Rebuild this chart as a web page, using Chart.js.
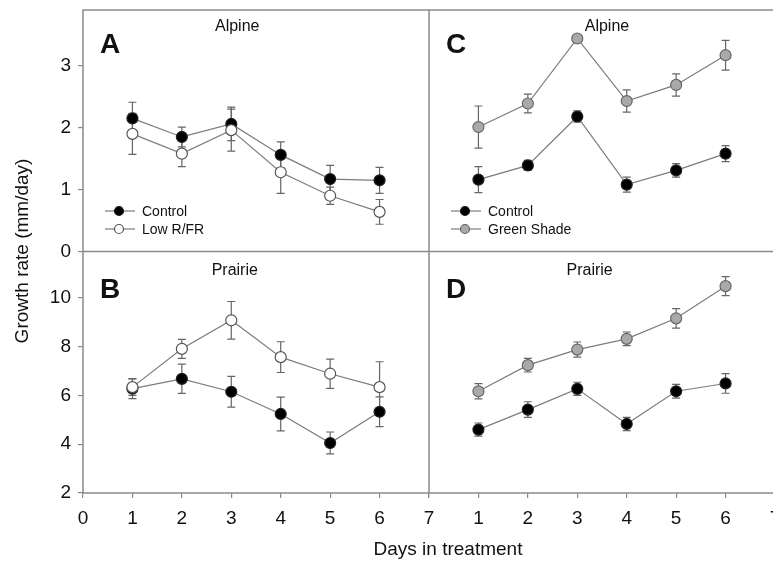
<!DOCTYPE html>
<html>
<head>
<meta charset="utf-8">
<script src="https://cdn.jsdelivr.net/npm/chart.js@4.4.0/dist/chart.umd.min.js"></script>
<style>
  html, body { margin: 0; padding: 0; background: #fff; overflow: hidden; }
  #wrap { position: relative; width: 773px; height: 563px; overflow: hidden; }
  #fig { position: absolute; left: 0; top: 0; }
</style>
</head>
<body>
<div id="wrap"><canvas id="fig" width="800" height="563"></canvas></div>
<script>
// days on the x axis
const days = [1, 2, 3, 4, 5, 6];

// A - Alpine, low R/FR experiment
const alpineRfrControl = [2.15, 1.85, 2.06, 1.56, 1.17, 1.15];
const alpineRfrControlSE = [0.26, 0.16, 0.27, 0.21, 0.22, 0.21];
const alpineLowRfr = [1.90, 1.58, 1.96, 1.28, 0.90, 0.64];
const alpineLowRfrSE = [0.33, 0.21, 0.34, 0.34, 0.14, 0.20];

// B - Prairie, low R/FR experiment
const prairieRfrControl = [6.28, 6.68, 6.15, 5.24, 4.05, 5.33];
const prairieRfrControlSE = [0.41, 0.60, 0.63, 0.69, 0.45, 0.61];
const prairieLowRfr = [6.34, 7.91, 9.08, 7.57, 6.89, 6.34];
const prairieLowRfrSE = [0.34, 0.39, 0.77, 0.63, 0.60, 1.04];

// C - Alpine, green shade experiment
const alpineShadeControl = [1.16, 1.39, 2.18, 1.08, 1.31, 1.58];
const alpineShadeControlSE = [0.21, 0.08, 0.09, 0.12, 0.11, 0.13];
const alpineGreenShade = [2.01, 2.39, 3.44, 2.43, 2.69, 3.17];
const alpineGreenShadeSE = [0.34, 0.15, 0.05, 0.18, 0.18, 0.24];

// D - Prairie, green shade experiment
const prairieShadeControl = [4.60, 5.42, 6.27, 4.83, 6.17, 6.49];
const prairieShadeControlSE = [0.27, 0.32, 0.27, 0.27, 0.28, 0.40];
const prairieGreenShade = [6.17, 7.24, 7.88, 8.32, 9.16, 10.48];
const prairieGreenShadeSE = [0.31, 0.28, 0.31, 0.28, 0.40, 0.39];

const FONT = '"Liberation Sans", Arial, Helvetica, sans-serif';
const LINE = '#7c7c7c';
const FRAME = '#8a8a8a';

// marker look for each treatment
const styles = {
  control: { fill: '#000000', edge: '#222222' },
  lowrfr: { fill: '#ffffff', edge: '#555555' },
  shade: { fill: '#a9a9a9', edge: '#666666' }
};

function series(label, values, se, st, xId, yId) {
  return {
    label: label,
    data: days.map((d, i) => ({ x: d, y: values[i] })),
    errors: se,
    xAxisID: xId,
    yAxisID: yId,
    showLine: true,
    borderColor: LINE,
    borderWidth: 1.2,
    pointRadius: 5.5,
    pointBorderWidth: 1.2,
    pointBackgroundColor: st.fill,
    pointBorderColor: st.edge
  };
}

//Error bars
const errorBars = {
  id: 'errorBars',
  beforeDatasetsDraw(chart) {
    const ctx = chart.ctx;
    ctx.save();
    ctx.strokeStyle = '#666';
    ctx.lineWidth = 1.2;
    chart.data.datasets.forEach(ds => {
      const xs = chart.scales[ds.xAxisID];
      const ys = chart.scales[ds.yAxisID];
      ds.data.forEach((p, i) => {
        const e = ds.errors[i];
        const px = xs.getPixelForValue(p.x);
        const hi = ys.getPixelForValue(p.y + e);
        const lo = ys.getPixelForValue(p.y - e);
        ctx.beginPath();
        ctx.moveTo(px, hi); ctx.lineTo(px, lo);
        ctx.moveTo(px - 4, hi); ctx.lineTo(px + 4, hi);
        ctx.moveTo(px - 4, lo); ctx.lineTo(px + 4, lo);
        ctx.stroke();
      });
    });
    ctx.restore();
  }
};

//Frame around the four panels
const frame = {
  id: 'frame',
  beforeDatasetsDraw(chart) {
    const { ctx, chartArea } = chart;
    const midX = chart.scales.xL.right;
    const midY = chart.scales.yT.bottom;
    ctx.save();
    ctx.strokeStyle = FRAME;
    ctx.lineWidth = 1.5;
    ctx.strokeRect(chartArea.left, chartArea.top, chartArea.right - chartArea.left, chartArea.bottom - chartArea.top);
    ctx.beginPath();
    ctx.moveTo(midX, chartArea.top); ctx.lineTo(midX, chartArea.bottom);
    ctx.moveTo(chartArea.left, midY); ctx.lineTo(chartArea.right, midY);
    ctx.stroke();
    ctx.restore();
  }
};

//Texts: panel letters, titles, legends, axis titles
const texts = {
  id: 'texts',
  afterDraw(chart) {
    const ctx = chart.ctx;
    const xL = chart.scales.xL, xR = chart.scales.xR;
    const yT = chart.scales.yT, yB = chart.scales.yB;
    ctx.save();
    ctx.fillStyle = '#111';

    ctx.font = 'bold 28px ' + FONT;
    ctx.textAlign = 'left';
    ctx.textBaseline = 'alphabetic';
    ctx.fillText('A', xL.left + 17, yT.top + 43);
    ctx.fillText('B', xL.left + 17, yB.top + 46);
    ctx.fillText('C', xR.left + 17, yT.top + 43);
    ctx.fillText('D', xR.left + 17, yB.top + 46);

    ctx.font = '16px ' + FONT;
    ctx.textAlign = 'center';
    ctx.fillText('Alpine', xL.getPixelForValue(3.12), yT.top + 21);
    ctx.fillText('Prairie', xL.getPixelForValue(3.07), yB.top + 23);
    ctx.fillText('Alpine', xR.getPixelForValue(3.6), yT.top + 21);
    ctx.fillText('Prairie', xR.getPixelForValue(3.25), yB.top + 23);

    // legends
    const legend = (x0, y0, items) => {
      items.forEach((it, k) => {
        const y = y0 + k * 18;
        ctx.strokeStyle = LINE;
        ctx.lineWidth = 1.2;
        ctx.beginPath();
        ctx.moveTo(x0, y); ctx.lineTo(x0 + 30, y);
        ctx.stroke();
        ctx.beginPath();
        ctx.arc(x0 + 14, y, 4.5, 0, Math.PI * 2);
        ctx.fillStyle = it.st.fill;
        ctx.fill();
        ctx.strokeStyle = it.st.edge;
        ctx.stroke();
        ctx.fillStyle = '#111';
        ctx.font = '14px ' + FONT;
        ctx.textAlign = 'left';
        ctx.textBaseline = 'middle';
        ctx.fillText(it.label, x0 + 37, y + 1);
      });
    };
    legend(xL.left + 22, yT.top + 201, [
      { label: 'Control', st: styles.control },
      { label: 'Low R/FR', st: styles.lowrfr }
    ]);
    legend(xR.left + 22, yT.top + 201, [
      { label: 'Control', st: styles.control },
      { label: 'Green Shade', st: styles.shade }
    ]);

    // axis titles
    ctx.fillStyle = '#111';
    ctx.font = '19px ' + FONT;
    ctx.textAlign = 'center';
    ctx.textBaseline = 'alphabetic';
    ctx.fillText('Days in treatment', 448, 555);
    ctx.translate(28, 251);
    ctx.rotate(-Math.PI / 2);
    ctx.fillText('Growth rate (mm/day)', 0, 0);
    ctx.restore();
  }
};

const tickFont = { family: FONT, size: 19 };

function yAxis(min, max, step) {
  return {
    type: 'linear',
    position: 'left',
    stack: 'rows',
    stackWeight: 1,
    min: min,
    max: max,
    afterFit: s => { s.width = 83; s.paddingTop = 0; s.paddingBottom = 0; },
    ticks: { stepSize: step, includeBounds: false, padding: 7, color: '#111', font: tickFont },
    grid: { display: true, drawOnChartArea: false, drawTicks: true, tickLength: 5, color: FRAME, lineWidth: 1.2 },
    border: { display: false }
  };
}

function xAxis(hideZero) {
  return {
    type: 'linear',
    position: 'bottom',
    stack: 'cols',
    stackWeight: 1,
    min: 0,
    max: 7,
    afterFit: s => { s.height = 70; s.paddingLeft = 0; s.paddingRight = 0; },
    ticks: {
      stepSize: 1,
      autoSkip: false,
      maxRotation: 0,
      minRotation: 0,
      padding: 9,
      color: '#111',
      font: tickFont,
      callback: v => (hideZero && v === 0) ? '' : v
    },
    grid: { display: true, drawOnChartArea: false, drawTicks: true, tickLength: 5, color: FRAME, lineWidth: 1.2 },
    border: { display: false }
  };
}

const fig = new Chart(document.getElementById('fig'), {
  type: 'scatter',
  data: {
    // treatments listed first so they sit on top of the controls
    datasets: [
      series('Low R/FR', alpineLowRfr, alpineLowRfrSE, styles.lowrfr, 'xL', 'yT'),
      series('Control', alpineRfrControl, alpineRfrControlSE, styles.control, 'xL', 'yT'),
      series('Low R/FR', prairieLowRfr, prairieLowRfrSE, styles.lowrfr, 'xL', 'yB'),
      series('Control', prairieRfrControl, prairieRfrControlSE, styles.control, 'xL', 'yB'),
      series('Green Shade', alpineGreenShade, alpineGreenShadeSE, styles.shade, 'xR', 'yT'),
      series('Control', alpineShadeControl, alpineShadeControlSE, styles.control, 'xR', 'yT'),
      series('Green Shade', prairieGreenShade, prairieGreenShadeSE, styles.shade, 'xR', 'yB'),
      series('Control', prairieShadeControl, prairieShadeControlSE, styles.control, 'xR', 'yB')
    ]
  },
  options: {
    responsive: false,
    animation: false,
    layout: { padding: { top: 10, right: 25, left: 0, bottom: 0 } },
    plugins: { legend: { display: false }, tooltip: { enabled: false } },
    scales: {
      xL: xAxis(false),
      xR: xAxis(true),
      yB: yAxis(2, 11.9, 2),
      yT: yAxis(0, 3.9, 1)
    }
  },
  plugins: [frame, errorBars, texts]
});
</script>
</body>
</html>
